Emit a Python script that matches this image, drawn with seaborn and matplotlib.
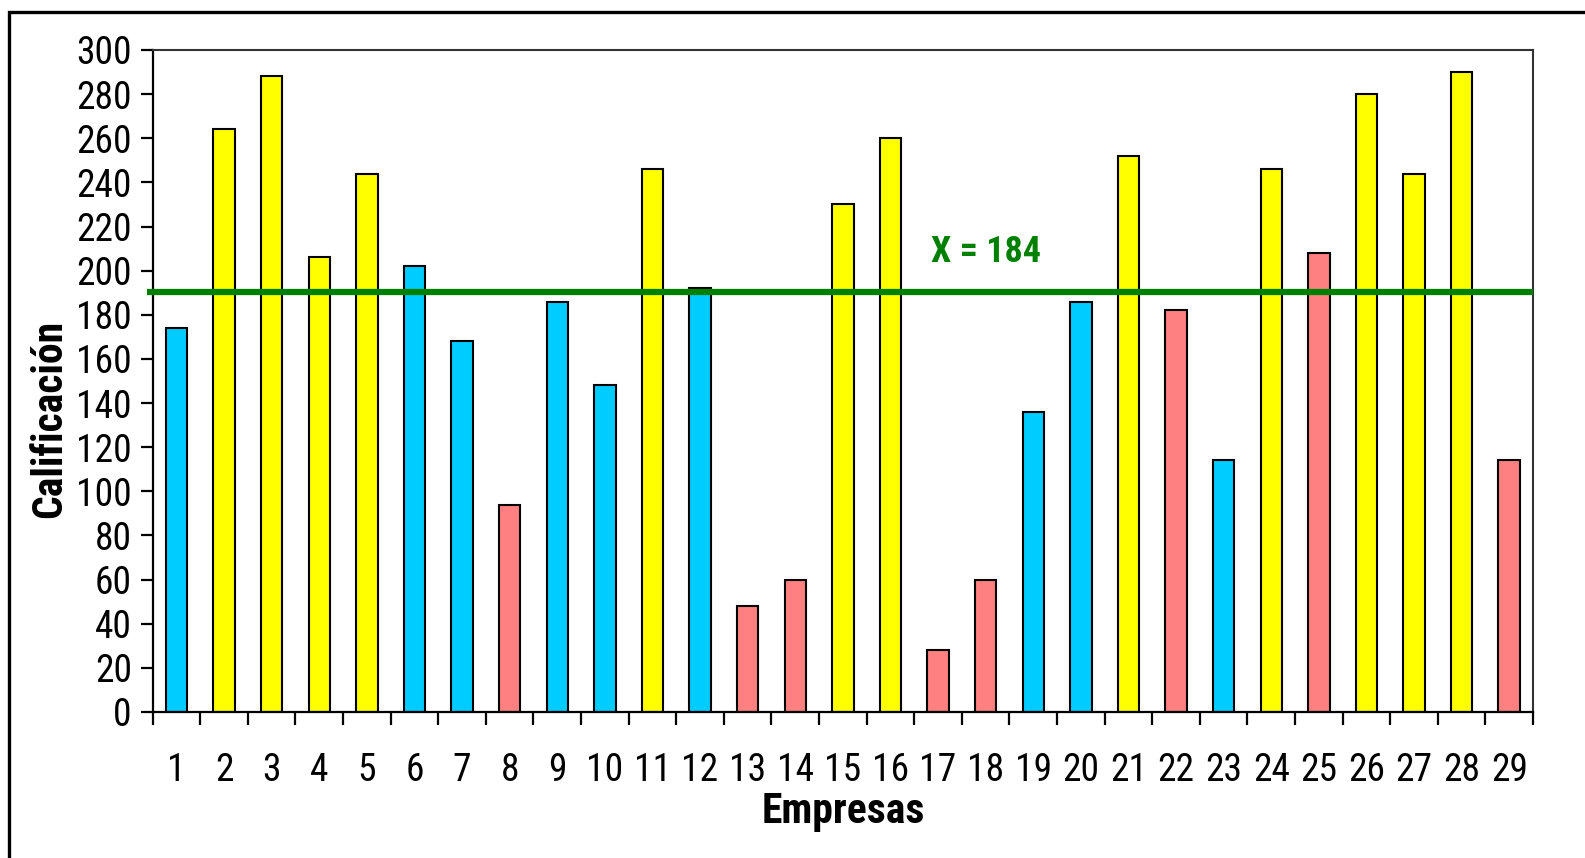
import matplotlib
matplotlib.use("Agg")
import matplotlib.pyplot as plt
from matplotlib import font_manager
from matplotlib.patches import Rectangle
import matplotlib.transforms as mtrans
import seaborn as sns
import pandas as pd
import numpy as np

empresas = [str(i) for i in range(1, 30)]
calificacion = [174, 264, 288, 206, 244, 202, 168, 94, 186, 148,
                246, 192, 48, 60, 230, 260, 28, 60, 136, 186,
                252, 182, 114, 246, 208, 280, 244, 290, 114]
grupo = ["c", "y", "y", "y", "y", "c", "c", "r", "c", "c",
         "y", "c", "r", "r", "y", "y", "r", "r", "c", "c",
         "y", "r", "c", "y", "r", "y", "y", "y", "r"]
linea_media = 190.5
etiqueta_media = "X = 184"

palette = {"y": "#FFFF00", "c": "#00CCFF", "r": "#FF8080"}

names = {f.name for f in font_manager.fontManager.ttflist}
fam = "DejaVu Sans"
for cand in ["Liberation Sans Narrow", "Roboto Condensed", "Archivo Narrow",
             "Asap Condensed", "Barlow Semi Condensed"]:
    if cand in names:
        fam = cand
        break

sns.set_style("white")
plt.rcParams["font.family"] = [fam, "DejaVu Sans"]

df = pd.DataFrame({"Empresa": empresas, "Calificacion": calificacion, "g": grupo})

W, H = 1585, 858
L, R, T, B = 152.7, 1533, 50, 712
fig = plt.figure(figsize=(W / 100, H / 100), dpi=100)
ax = fig.add_axes([L / W, 1 - B / H, (R - L) / W, (B - T) / H])

sns.barplot(data=df, x="Empresa", y="Calificacion", hue="g", palette=palette,
            dodge=False, legend=False, width=0.45, edgecolor="black",
            linewidth=1.5, saturation=1, ax=ax)

trans = mtrans.blended_transform_factory(ax.transAxes, ax.transData)
ax.plot([-0.004, 1.0], [linea_media, linea_media], transform=trans,
        color="#008000", lw=4.5, zorder=5, clip_on=False,
        solid_capstyle="butt")
ax.text(17.0, 208.5, etiqueta_media, color="#008000", fontsize=26,
        fontweight="bold", ha="center", va="center")

ax.set_ylim(0, 300)
ax.set_xlim(-0.5, 28.5)
ax.set_yticks(np.arange(0, 301, 20))
ax.tick_params(axis="y", labelsize=27, length=9, width=1.6, direction="out",
               left=True, pad=6, colors="black")
ax.set_xticks(np.arange(29))
ax.set_xticklabels(empresas)
ax.tick_params(axis="x", which="major", labelsize=27, length=0, pad=29,
               colors="black")
ax.set_xticks(np.arange(-0.5, 29, 1), minor=True)
ax.tick_params(axis="x", which="minor", length=9, width=1.6, direction="out",
               bottom=True, color="black")

for side in ["left", "bottom"]:
    ax.spines[side].set_color("black")
    ax.spines[side].set_linewidth(1.6)
for side in ["top", "right"]:
    ax.spines[side].set_color("#333333")
    ax.spines[side].set_linewidth(1.5)

ax.set_xlabel("Empresas", fontsize=30, fontweight="bold", labelpad=1,
              color="black")
ax.set_ylabel("Calificación", fontsize=30, fontweight="bold", color="black")
ax.yaxis.set_label_coords(-0.06, 0.443)

fig.patches.append(Rectangle((8.5 / W, -0.2), 1.2, 0.2 + (1 - 12.5 / H),
                             transform=fig.transFigure, fill=False,
                             edgecolor="black", lw=2.4, clip_on=False))

fig.savefig("out.png", dpi=100)
